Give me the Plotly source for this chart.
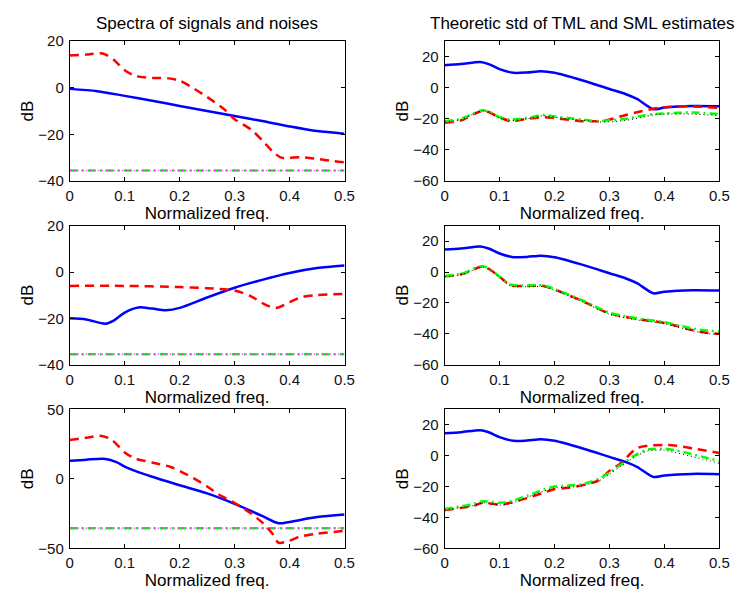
import plotly.graph_objects as go

# ---------------- data (normalized frequency vs dB) ----------------
# Left column: spectra of signals and noises
f_sig1 = [0, 0.05, 0.1, 0.15, 0.2, 0.25, 0.3, 0.35, 0.4, 0.45, 0.5]
sig1 = [-0.5, -1.5, -3.5, -5.6, -7.8, -10.0, -12.1, -14.3, -16.6, -18.6, -19.7]
f_noi1 = [0, 0.03, 0.06, 0.08, 0.1, 0.12, 0.15, 0.18, 0.2, 0.22, 0.25, 0.28, 0.3,
          0.33, 0.35, 0.37, 0.385, 0.4, 0.42, 0.45, 0.48, 0.5]
noi1 = [13.8, 14.2, 14.7, 12.0, 7.5, 5.0, 4.2, 4.0, 3.0, 0.5, -4.0, -9.0, -13.5,
        -18.0, -22.5, -27.5, -30.0, -30.0, -29.8, -30.5, -31.5, -32.0]

f_sig2 = [0, 0.03, 0.065, 0.08, 0.1, 0.125, 0.15, 0.175, 0.2, 0.25, 0.3, 0.35,
          0.4, 0.45, 0.5]
sig2 = [-20.0, -20.5, -22.3, -21.0, -17.5, -15.3, -15.8, -16.5, -15.5, -11.0,
        -6.8, -3.4, -0.4, 1.7, 2.8]
f_noi2 = [0, 0.1, 0.2, 0.25, 0.3, 0.33, 0.355, 0.375, 0.4, 0.42, 0.45, 0.5]
noi2 = [-6.0, -6.0, -6.5, -7.0, -8.0, -10.5, -14.0, -15.5, -13.0, -11.0, -10.0, -9.5]

f_sig3 = [0, 0.03, 0.065, 0.085, 0.1, 0.12, 0.15, 0.2, 0.25, 0.3, 0.35, 0.38,
          0.4, 0.45, 0.5]
sig3 = [13.0, 13.8, 14.3, 12.0, 8.8, 5.5, 1.5, -4.6, -10.5, -18.0, -26.7, -32.0,
        -31.0, -27.5, -25.6]
f_noi3 = [0, 0.03, 0.055, 0.075, 0.1, 0.12, 0.15, 0.185, 0.225, 0.25, 0.27, 0.3,
          0.33, 0.35, 0.37, 0.38, 0.4, 0.42, 0.45, 0.5]
noi3 = [28.0, 29.5, 31.0, 28.5, 19.0, 14.5, 11.8, 8.3, 0.5, -5.5, -11.0, -17.4,
        -25.0, -31.4, -40.0, -46.0, -44.5, -41.5, -39.5, -37.5]

f_flat = [0, 0.5]
floor1 = [-35.5, -35.5]
floor2 = [-35.5, -35.5]
floor3 = [-35.5, -35.5]

# Right column: theoretic std of TML and SML estimates
f_std = [0, 0.03, 0.065, 0.08, 0.1, 0.125, 0.15, 0.175, 0.2, 0.25, 0.3, 0.33,
         0.35, 0.38, 0.4, 0.45, 0.5]
bound = [14.5, 15.2, 16.5, 15.2, 12.0, 9.6, 9.8, 10.6, 9.6, 4.8, -0.8, -4.2,
         -7.2, -13.8, -12.8, -11.8, -12.0]

f_e1 = [0, 0.03, 0.07, 0.1, 0.12, 0.15, 0.18, 0.2, 0.25, 0.28, 0.3, 0.33, 0.36,
        0.38, 0.4, 0.45, 0.5]
tml1 = [-22.5, -21.0, -14.8, -19.0, -21.5, -20.0, -19.0, -19.5, -21.5, -21.5,
        -20.5, -17.5, -15.0, -13.5, -12.5, -12.0, -13.0]
sml1 = [-21.5, -20.0, -14.5, -19.0, -20.5, -19.5, -17.5, -18.5, -20.5, -21.5,
        -21.0, -20.0, -18.0, -17.0, -16.5, -16.0, -17.0]
sim1 = [-22.0, -20.5, -15.0, -19.5, -21.0, -20.0, -18.0, -19.0, -21.0, -22.0,
        -22.0, -21.0, -19.0, -17.5, -17.0, -17.0, -18.0]

f_e2 = [0, 0.03, 0.07, 0.085, 0.1, 0.12, 0.15, 0.18, 0.2, 0.25, 0.3, 0.35, 0.4,
        0.45, 0.48, 0.5]
tml2 = [-2.7, -1.5, 3.6, 1.0, -3.0, -8.5, -9.0, -9.0, -11.3, -18.7, -26.8,
        -30.4, -33.0, -37.5, -39.5, -40.0]
sml2 = [-2.5, -1.2, 3.8, 1.2, -3.0, -8.2, -8.7, -8.7, -11.0, -18.3, -26.3,
        -30.0, -32.5, -36.5, -38.0, -38.5]
sim2 = [-3.0, -1.8, 3.2, 0.6, -3.5, -9.0, -9.5, -9.5, -11.8, -19.2, -27.3,
        -31.0, -33.5, -38.0, -40.0, -40.5]

f_e3 = [0, 0.05, 0.07, 0.1, 0.12, 0.15, 0.18, 0.2, 0.22, 0.25, 0.28, 0.3, 0.32,
        0.35, 0.37, 0.4, 0.42, 0.45, 0.5]
tml3 = [-35.2, -32.7, -30.5, -31.7, -30.5, -27.5, -24.0, -21.7, -21.0, -19.2,
        -16.0, -9.8, -5.0, 4.8, 6.5, 6.9, 6.5, 4.8, 1.7]
sml3 = [-34.5, -31.5, -29.5, -30.5, -29.5, -26.0, -22.0, -20.0, -19.5, -18.5,
        -15.0, -11.0, -6.0, 1.0, 4.0, 4.5, 3.5, 1.0, -3.5]
sim3 = [-35.0, -32.5, -30.5, -32.0, -31.0, -27.0, -23.0, -21.0, -20.5, -19.5,
        -16.5, -12.0, -7.0, 0.0, 3.0, 3.5, 2.0, -0.5, -5.0]

xticks = [0, 0.1, 0.2, 0.3, 0.4, 0.5]
xtick_text = ["0", "0.1", "0.2", "0.3", "0.4", "0.5"]
left_titles = "Spectra of signals and noises"
right_titles = "Theoretic std of TML and SML estimates"
xlabel = "Normalized freq."
ylabel = "dB"

# ---------------- figure ----------------
W, H = 750, 601
FONT = "Liberation Sans, Arial, Helvetica, sans-serif"
TICK_SIZE = 15
LABEL_SIZE = 17

# pixel boxes of the six axes: (left, right, top, bottom)
cols = [(67, 347), (449, 729)]
rows = [(33, 177), (223, 366), (412, 555)]

yranges = {
    (0, 0): ([-40, 20], [-40, -20, 0, 20]),
    (1, 0): ([-40, 20], [-40, -20, 0, 20]),
    (2, 0): ([-50, 50], [-50, 0, 50]),
    (0, 1): ([-60, 30], [-60, -40, -20, 0, 20]),
    (1, 1): ([-60, 30], [-60, -40, -20, 0, 20]),
    (2, 1): ([-60, 30], [-60, -40, -20, 0, 20]),
}

fig = go.Figure()
layout = dict(
    width=W, height=H, margin=dict(l=0, r=0, t=0, b=0),
    paper_bgcolor="white", plot_bgcolor="white", showlegend=False,
    font=dict(family=FONT, size=TICK_SIZE, color="black"),
)

idx = 0
axes_of = {}
for r, (top, bot) in enumerate(rows):
    for c, (lft, rgt) in enumerate(cols):
        idx += 1
        xa = "xaxis" if idx == 1 else f"xaxis{idx}"
        ya = "yaxis" if idx == 1 else f"yaxis{idx}"
        xref = "x" if idx == 1 else f"x{idx}"
        yref = "y" if idx == 1 else f"y{idx}"
        axes_of[(r, c)] = (xref, yref)
        yr, yt = yranges[(r, c)]
        common = dict(showgrid=False, zeroline=False, showline=True,
                      linecolor="black", linewidth=1, mirror="ticks",
                      ticks="inside", ticklen=4, tickcolor="black",
                      tickfont=dict(family=FONT, size=TICK_SIZE, color="#111"))
        layout[xa] = dict(common, domain=[lft / W, rgt / W], range=[0, 0.5],
                          tickvals=xticks, ticktext=xtick_text, anchor=yref,
                          ticklabelstandoff=1,
                          title=dict(text=xlabel, standoff=0,
                                     font=dict(family=FONT, size=LABEL_SIZE)))
        layout[ya] = dict(common, domain=[1 - bot / H, 1 - top / H], range=yr,
                          tickvals=yt, tickformat="d", anchor=xref,
                          ticklabelstandoff=2,
                          title=dict(text=ylabel, standoff=0,
                                     font=dict(family=FONT, size=LABEL_SIZE)))

fig.update_layout(**layout)

BLUE, RED, GREEN, MAG = "#0000ff", "#ff0000", "#00ff00", "#ff00ff"


def add(ax, x, y, color, dash, width):
    xr, yr = axes_of[ax]
    fig.add_trace(go.Scatter(x=x, y=y, mode="lines", xaxis=xr, yaxis=yr,
                             line=dict(color=color, dash=dash, width=width,
                                       shape="spline", smoothing=0.8),
                             hoverinfo="skip"))


DASH = "9px,6px"
DASHDOT = "8px,4px,2px,4px"
DOT = "1px,3px"

left_sets = [(sig1, f_sig1, noi1, f_noi1, floor1),
             (sig2, f_sig2, noi2, f_noi2, floor2),
             (sig3, f_sig3, noi3, f_noi3, floor3)]
for r, (s, fs, n, fn, fl) in enumerate(left_sets):
    add((r, 0), f_flat, fl, GREEN, DASHDOT, 2.5)
    add((r, 0), f_flat, fl, MAG, DOT, 1.2)
    add((r, 0), fs, s, BLUE, "solid", 2.5)
    add((r, 0), fn, n, RED, DASH, 2.5)

right_sets = [(f_e1, tml1, sml1, sim1), (f_e2, tml2, sml2, sim2),
              (f_e3, tml3, sml3, sim3)]
for r, (fe, t, s, m) in enumerate(right_sets):
    add((r, 1), f_std, bound, BLUE, "solid", 2.5)
    add((r, 1), fe, t, RED, DASH, 2.5)
    add((r, 1), fe, s, GREEN, DASHDOT, 2.5)
    add((r, 1), fe, m, "black", DOT, 1)

# column titles
for (lft, rgt), txt in zip(cols, [left_titles, right_titles]):
    fig.add_annotation(text=txt, x=(lft + rgt) / 2 / W, y=1 - 15 / H,
                       xref="paper", yref="paper", showarrow=False,
                       font=dict(family=FONT, size=LABEL_SIZE, color="black"),
                       xanchor="center", yanchor="middle")

fig.write_html("out.html")
